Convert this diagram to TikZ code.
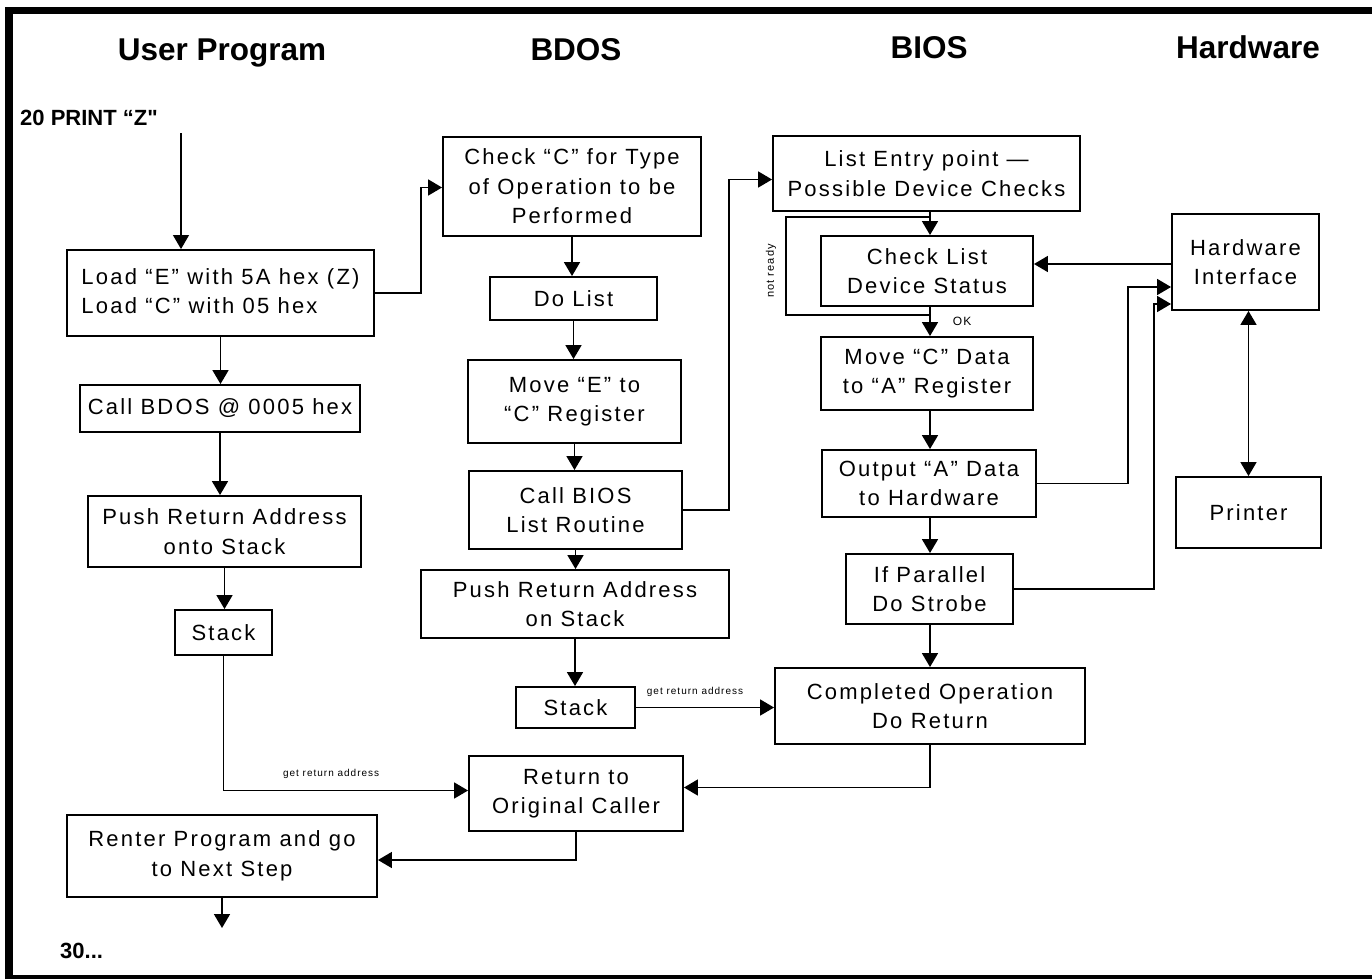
\documentclass[tikz,border=0pt]{standalone}
\usepackage{fontspec}
\setmainfont{Liberation Sans}
\newfontfamily\bxfont{Liberation Sans}[LetterSpace=10]
\newfontfamily\rawfont{Liberation Sans}[Ligatures=TeXOff]
\usetikzlibrary{arrows.meta,calc}
\newcommand\mkbox[6]{%
  \node[bx, minimum width={#3pt-#2pt}, minimum height={#5pt-#4pt}]
    (#1) at ({(#2+#3)/2},{(#4+#5)/2}) {#6};}
\begin{document}
\begin{tikzpicture}[x=1pt,y=-1pt,
  bx/.style={draw, line width=1.9pt, inner sep=0pt, align=center,
    font=\bxfont\fontsize{22}{29.5}\selectfont},
  arr/.style={line width=1.7pt, -{Triangle[length=14pt,width=16pt]}},
  dblarr/.style={line width=1.7pt, {Triangle[length=14pt,width=16pt]}-{Triangle[length=14pt,width=16pt]}},
  loopln/.style={line width=1.1pt},
  ttl/.style={font=\bfseries\fontsize{31.5}{36}\selectfont, anchor=base, inner sep=0pt},
  basic/.style={font=\rawfont\bfseries\fontsize{22}{26}\selectfont, anchor=base west, inner sep=0pt},
  small/.style={font=\bxfont\fontsize{10}{12}\selectfont, inner sep=0pt}]
\useasboundingbox (0,0) rectangle (1372,979);
\fill[white] (0,0) rectangle (1372,979);
% frame
\draw[line width=8pt] (9,979) -- (9,7);
\draw[line width=7pt] (5,10.5) -- (1372,10.5);
\draw[line width=4pt] (5,977) -- (1372,977);

% titles
\node[ttl] (tU) at (222,61) {User Program};
\node[ttl] (tB) at (576,61) {BDOS};
\node[ttl] (tI) at (929,59) {BIOS};
\node[ttl] (tH) at (1248,59) {Hardware};

\node[basic] (prt) at (20,125) {20 PRINT “Z"};
\node[basic] (thirty) at (60,958) {30...};

% User program column
\mkbox{b1}{67}{374}{250}{336}{\begin{tabular}{@{}l@{}}Load “E” with 5A hex (Z)\\Load “C” with 05 hex\end{tabular}}
\mkbox{b2}{80}{360}{385}{432}{Call BDOS @ 0005 hex}
\mkbox{b3}{88}{361}{496}{567}{Push Return Address\\onto Stack}
\mkbox{b4}{175}{272}{610}{655}{Stack}
\mkbox{b5}{67}{377}{815}{897}{Renter Program and go\\to Next Step}

% BDOS column
\mkbox{c1}{443}{701}{137}{236}{Check “C” for Type\\of Operation to be\\Performed}
\mkbox{c2}{490}{657}{277}{320}{Do List}
\mkbox{c3}{468}{681}{360}{443}{Move “E” to\\“C” Register}
\mkbox{c4}{469}{682}{471}{549}{Call BIOS\\List Routine}
\mkbox{c5}{421}{729}{570}{638}{Push Return Address\\on Stack}
\mkbox{c6}{516}{635}{687}{728}{Stack}
\mkbox{c7}{469}{683}{756}{831}{Return to\\Original Caller}

% BIOS column
\mkbox{d1}{773}{1080}{136}{211}{List Entry point —\\Possible Device Checks}
\mkbox{d2}{821}{1033}{236}{306}{Check List\\Device Status}
\mkbox{d3}{821}{1033}{337}{410}{Move “C” Data\\to “A” Register}
\mkbox{d4}{822}{1036}{450}{517}{Output “A” Data\\to Hardware}
\mkbox{d5}{846}{1013}{554}{624}{If Parallel\\Do Strobe}
\mkbox{d6}{775}{1085}{668}{744}{Completed Operation\\Do Return}

% Hardware column
\mkbox{h1}{1172}{1319}{214}{310}{Hardware\\Interface}
\mkbox{h2}{1176}{1321}{477}{548}{Printer}

% helper coordinates
\coordinate (pstart) at (181,133);
\coordinate (endp) at (221,928);
\coordinate (nrB) at (786,315);
\coordinate (nrT) at (786,217);
\coordinate (xA) at (1128,0);
\coordinate (xB) at (1154,0);
\coordinate (dx) at (930,0);

% user column connectors
\draw[arr, line width=1.2pt] (pstart) -- (pstart |- b1.north);
\draw[arr] (b1.south) -- (b1.south |- b2.north);
\draw[arr] (b2.south) -- (b2.south |- b3.north);
\draw[arr] (b3.south) -- (b3.south |- b4.north);
\draw[arr] (b4.south) |- ([yshift=3pt]c7.west)
  node[small, pos=0.72, above=11pt] {get return address};
\draw[arr] (c7.south) |- ([yshift=-4pt]b5.east);
\draw[arr] (b5.south) -- (b5.south |- endp);
\draw[arr] (b1.east) -- ++(46,0) |- ([yshift=-1pt]c1.west);

% BDOS connectors
\draw[arr] (c1.south) -- (c1.south |- c2.north);
\draw[arr] (c2.south) -- (c2.south |- c3.north);
\draw[arr] (c3.south) -- (c3.south |- c4.north);
\draw[arr] (c4.south) -- (c4.south |- c5.north);
\draw[arr] (c5.south) -- (c5.south |- c6.north);
\draw[arr] (c4.east) -- ++(46,0) |- ([yshift=-6pt]d1.west);
\draw[arr] (c6.east) -- (c6.east -| d6.west)
  node[small, midway, above=10pt, xshift=-10pt] {get return address};

% BIOS connectors
\draw[arr] (dx |- d1.south) -- (dx |- d2.north);
\draw[loopln] (dx |- nrB) -- (nrB) -- (nrT) -- (dx |- nrT);
\node[small, font=\bxfont\fontsize{11}{12}\selectfont, rotate=90] (nrl) at (771,271) {not ready};
\draw[arr] (dx |- d2.south) -- (dx |- d3.north)
  node[small, font=\bxfont\fontsize{12}{13}\selectfont, pos=0.5, right=22pt] {OK};
\draw[arr] (dx |- d3.south) -- (dx |- d4.north);
\draw[arr] (dx |- d4.south) -- (dx |- d5.north);
\draw[arr] (dx |- d5.south) -- (dx |- d6.north);
\draw[arr] (d6.south) |- ([yshift=6pt]c7.east);

% hardware connectors
\draw[arr] (d4.east) -- (xA |- d4.east) |- ([yshift=-25pt]h1.west);
\draw[arr] (d5.east) -- (xB |- d5.east) |- ([yshift=-42pt]h1.west);
\draw[arr] ([yshift=-2pt]h1.west) -- ([yshift=-2pt]h1.west -| d2.east);
\draw[dblarr] (h2.north |- h1.south) -- (h2.north);
\end{tikzpicture}
\end{document}
